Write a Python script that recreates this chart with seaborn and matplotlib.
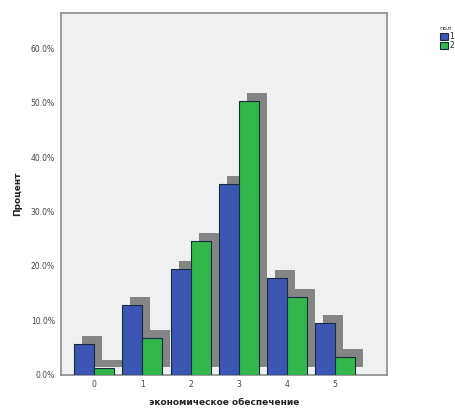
import matplotlib.pyplot as plt
import matplotlib.transforms as mtransforms
import numpy as np
import pandas as pd
import seaborn as sns
from matplotlib.patches import Rectangle

COLOR_BLUE = "#3c56b4"
COLOR_GREEN = "#30b84a"
COLOR_SHADOW = "#858585"
COLOR_PANEL = "#f0f0f0"
COLOR_SPINE = "#8a8a8a"
COLOR_TEXT = "#444444"

categories = ["0", "1", "2", "3", "4", "5"]
hue_labels = ["1", "2"]
pct_group1 = [5.6, 12.8, 19.5, 35.0, 17.7, 9.6]
pct_group2 = [1.2, 6.7, 24.6, 50.2, 14.3, 3.3]
y_ticks = [0, 10, 20, 30, 40, 50, 60]

df = pd.DataFrame(
    {
        "cat": categories * 2,
        "pct": pct_group1 + pct_group2,
        "пол": [hue_labels[0]] * len(categories) + [hue_labels[1]] * len(categories),
    }
)

sns.set_style("white")
plt.rcParams["font.family"] = ["DejaVu Sans"]

fig = plt.figure(figsize=(4.55, 4.12), dpi=100)
ax = fig.add_axes([0.134, 0.09, 0.717, 0.878])
ax.set_facecolor(COLOR_PANEL)

sns.barplot(
    data=df,
    x="cat",
    y="pct",
    hue="пол",
    palette=[COLOR_BLUE, COLOR_GREEN],
    width=0.83,
    gap=0,
    edgecolor="#1a2a40",
    linewidth=0.8,
    saturation=1,
    ax=ax,
    zorder=3,
)

# drop shadows like the SPSS 3D-ish bars
shift = mtransforms.ScaledTranslation(8 / 100, 8 / 100, fig.dpi_scale_trans)
for bar in list(ax.patches):
    if bar.get_height() <= 0:
        continue
    shadow = Rectangle(
        bar.get_xy(),
        bar.get_width(),
        bar.get_height(),
        transform=ax.transData + shift,
        facecolor=COLOR_SHADOW,
        edgecolor="none",
        zorder=2,
    )
    ax.add_patch(shadow)

ax.set_xlim(-0.69, 6.08)
ax.set_ylim(0, 66.4)
ax.set_yticks(y_ticks)
ax.set_yticklabels([f"{t:.1f}%" for t in y_ticks], fontsize=5.5, color=COLOR_TEXT)
ax.set_xticks(range(len(categories)))
ax.set_xticklabels(categories, fontsize=5.5, color=COLOR_TEXT)
ax.tick_params(axis="y", length=3, width=0.8, color=COLOR_SPINE, pad=1.5)
ax.tick_params(axis="x", length=0, pad=4)

for spine in ax.spines.values():
    spine.set_color(COLOR_SPINE)
    spine.set_linewidth(1.2)

ax.set_ylabel("Процент", fontsize=6.5, fontweight="bold", color="#222222")
ax.set_xlabel(
    "экономическое обеспечение", fontsize=6.5, fontweight="bold", color="#222222", labelpad=6
)
ax.yaxis.set_label_coords(-0.12, 0.5)

leg = ax.legend(
    title="пол",
    loc="upper left",
    bbox_to_anchor=(0.958, 0.945),
    bbox_transform=fig.transFigure,
    frameon=False,
    fontsize=5.5,
    title_fontsize=4.5,
    handlelength=1.1,
    handleheight=1.1,
    handletextpad=0.2,
    labelspacing=0.05,
    borderpad=0,
)
leg._legend_box.align = "left"

fig.savefig("out.png", dpi=100, facecolor="white")
